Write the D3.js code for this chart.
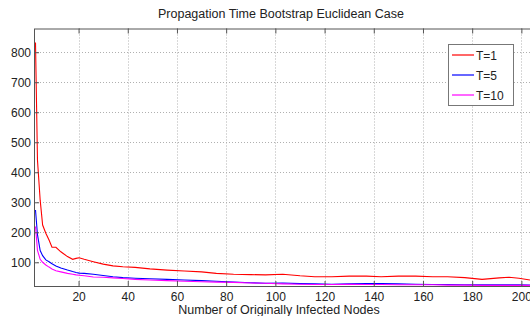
<!DOCTYPE html>
<html lang="en">
<head>
    <meta charset="UTF-8">
    <title>Propagation Time Bootstrap Euclidean Case</title>
    <script src="https://cdn.jsdelivr.net/npm/d3@7"></script>
    <style>
        body { margin: 0; background: white; }
        svg { display: block; font-family: "Liberation Sans", Arial, sans-serif; }
        .grid line { stroke: #b0b0b0; stroke-dasharray: 1,2; stroke-width: 1; }
        .tick text { fill: #222; font-size: 12px; }
    </style>
</head>
<body>
    <svg id="chart" width="530" height="316"></svg>
    <script>
        // number of originally infected nodes
        const nodes = [2.5, 3.3, 4.4, 5.4, 6.7, 8, 9.2, 10.8, 12.8, 15.5, 17.6, 19, 20.2, 22.3, 26, 30, 34, 38, 43, 49,
            56, 63, 70, 76, 83, 90, 96, 103, 110, 116, 123, 130, 137, 143, 150, 157, 164, 170, 177, 184,
            191, 195, 199, 203.5]
        const timeT1 = [832, 441, 307, 224, 197, 174, 150, 150, 135, 119, 110, 113, 115, 110, 102, 94, 88, 85, 83, 78,
            74, 71, 68, 63, 60, 59, 58, 60, 55, 52, 52, 54, 54, 52, 54, 54, 52, 52, 49, 43,
            48, 50, 47, 41]
        const timeT5 = [274, 192, 139, 122, 108, 102, 95, 88, 81, 74, 69, 66, 64, 63, 60, 56, 52, 49, 47, 45,
            43, 41, 39, 37, 34, 32, 30, 31, 29, 28, 27, 28, 29, 29, 28, 27, 26, 26, 25, 25,
            25, 25, 25, 24]
        const timeT10 = [219, 140, 110, 100, 91, 84, 78, 72, 68, 63, 60, 58, 57, 55, 51, 50, 48, 46, 43, 41,
            39, 37, 35, 34, 33, 31, 30, 28, 27, 26, 26, 27, 26, 26, 25, 25, 25, 24, 24, 23,
            23, 23, 23, 23]
        const seriesNames = ["T=1", "T=5", "T=10"]
        const seriesColors = ["#ff0000", "#0000ff", "#ff00ff"]
        const xTicks = [20, 40, 60, 80, 100, 120, 140, 160, 180, 200]
        const yTicks = [100, 200, 300, 400, 500, 600, 700, 800]

        const svg = d3.select("#chart")
        const plotLeft = 34, plotRight = 530, plotTop = 28.5, plotBottom = 286

        const x = d3.scaleLinear().domain([2.5, 203.5]).range([35.5, plotRight])
        const y = d3.scaleLinear().domain([21, 879]).range([plotBottom, plotTop])

        // grid
        let grid = svg.append("g").attr("class", "grid")
        grid.selectAll(".gx").data(xTicks).enter().append("line")
            .attr("x1", d => Math.round(x(d)) + 0.5).attr("x2", d => Math.round(x(d)) + 0.5)
            .attr("y1", plotTop).attr("y2", plotBottom)
        grid.selectAll(".gy").data(yTicks).enter().append("line")
            .attr("y1", d => Math.round(y(d)) + 0.5).attr("y2", d => Math.round(y(d)) + 0.5)
            .attr("x1", plotLeft).attr("x2", plotRight)

        // curves
        svg.append("clipPath").attr("id", "clip")
            .append("rect").attr("x", plotLeft).attr("y", plotTop)
            .attr("width", plotRight - plotLeft).attr("height", plotBottom - plotTop)

        const allSeries = [timeT1, timeT5, timeT10]
        let lineGen = d3.line()
            .x((d, i) => x(nodes[i]))
            .y(d => y(d))
        svg.append("g").attr("clip-path", "url(#clip)")
            .selectAll("path").data(allSeries).enter().append("path")
            .attr("d", lineGen)
            .attr("fill", "none")
            .attr("stroke", (d, i) => seriesColors[i])
            .attr("stroke-width", 1.1)

        // axes (MATLAB style: ticks inside, box)
        const axisColor = "#555"
        let xAxis = svg.append("g").attr("transform", `translate(0,${plotBottom})`)
            .call(d3.axisBottom(x).tickValues(xTicks).tickSizeInner(-5).tickSizeOuter(0).tickPadding(6))
        let xTop = svg.append("g").attr("transform", `translate(0,${plotTop})`)
            .call(d3.axisTop(x).tickValues(xTicks).tickSizeInner(-5).tickSizeOuter(0).tickFormat(""))
        let yAxis = svg.append("g").attr("transform", `translate(${plotLeft},0)`)
            .call(d3.axisLeft(y).tickValues(yTicks).tickSizeInner(-5).tickSizeOuter(0).tickPadding(3))
        ;[xAxis, xTop, yAxis].forEach(a => {
            a.select(".domain").attr("stroke", axisColor)
            a.selectAll(".tick line").attr("stroke", axisColor)
            a.selectAll(".tick text").attr("font-family", null).attr("font-size", null)
        })
        xTop.select(".domain").attr("d", `M${plotLeft},0.5H${plotRight}`)
        xAxis.select(".domain").attr("d", `M${plotLeft},0.5H${plotRight}`)

        // title and label
        svg.append("text").attr("x", 281).attr("y", 18).attr("text-anchor", "middle")
            .attr("font-size", 12.5).attr("fill", "#222")
            .text("Propagation Time Bootstrap Euclidean Case")
        svg.append("text").attr("x", 279).attr("y", 313.5).attr("text-anchor", "middle")
            .attr("font-size", 12.5).attr("fill", "#222")
            .text("Number of Originally Infected Nodes")

        // legend
        let legend = svg.append("g")
        legend.append("rect").attr("x", 448.5).attr("y", 44.5).attr("width", 65).attr("height", 61)
            .attr("fill", "white").attr("stroke", "#777")
        seriesNames.forEach((name, i) => {
            let ly = 55 + i * 20
            legend.append("line").attr("x1", 452).attr("x2", 474).attr("y1", ly).attr("y2", ly)
                .attr("stroke", seriesColors[i]).attr("stroke-width", 1.2)
            legend.append("text").attr("x", 476).attr("y", ly + 4.5)
                .attr("font-size", 12).attr("fill", "#222").text(name)
        })
    </script>
</body>
</html>
